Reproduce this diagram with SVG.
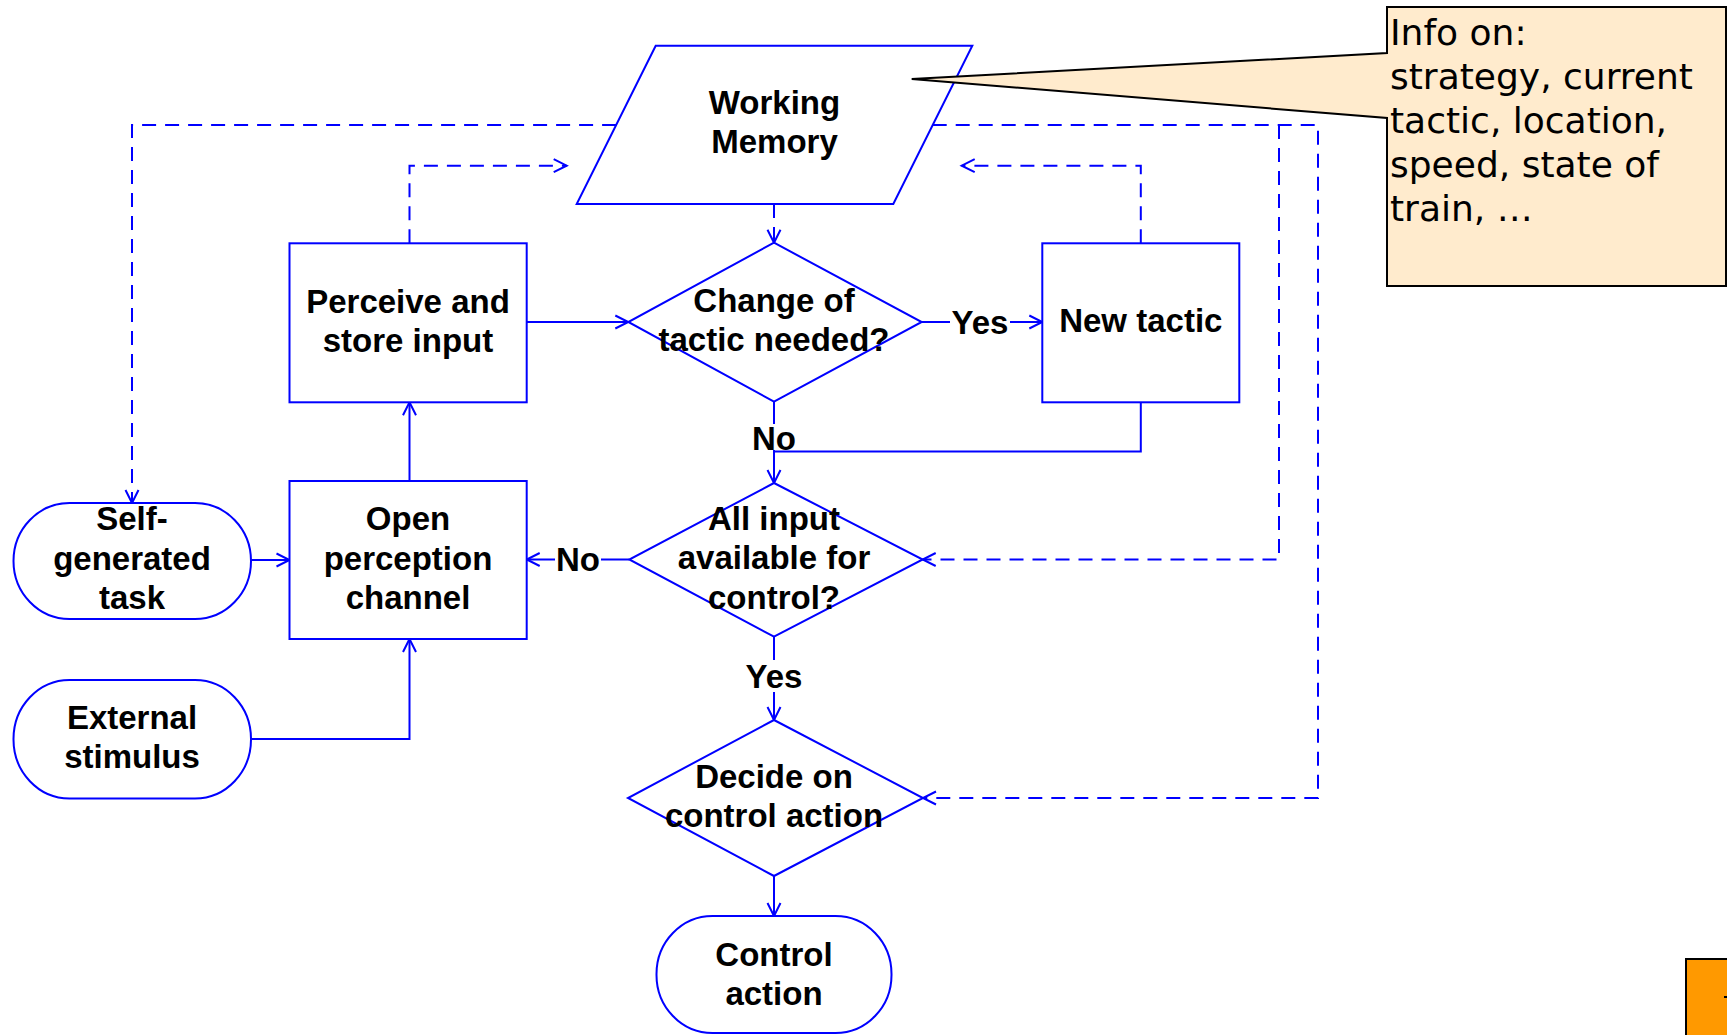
<svg xmlns="http://www.w3.org/2000/svg" width="1727" height="1035" viewBox="0 0 1727 1035">
  <style>
    .shape { fill: #ffffff; stroke: #0000ff; stroke-width: 2; }
    .lbl { font-family: "Liberation Sans", Arial, sans-serif; font-weight: bold; font-size: 33px; fill: #000000; text-anchor: middle; }
    .flow { fill: none; stroke: #0000ff; stroke-width: 2; }
    .dash { fill: none; stroke: #0000ff; stroke-width: 2; stroke-dasharray: 14 9; }
    .note { font-family: "DejaVu Sans", Verdana, sans-serif; font-size: 36px; fill: #000000; }
    .mask { fill: #ffffff; stroke: none; }
  </style>
  <defs>
    <!-- open V arrowhead used by solid and dashed connectors -->
    <marker id="arrow" markerUnits="userSpaceOnUse" viewBox="-16 -9 18 18" markerWidth="18" markerHeight="18" refX="0" refY="0" orient="auto" overflow="visible">
      <path d="M-13,-6.5 L0,0 L-13,6.5" fill="none" stroke="#0000ff" stroke-width="2" stroke-dasharray="none"/>
    </marker>
  </defs>

  <rect x="0" y="0" width="1727" height="1035" fill="#ffffff"/>

  <!-- connectors -->
  <g id="connectors">
    <!-- solid flow -->
    <path class="flow" d="M526.7,322 H628.3" marker-end="url(#arrow)"/>
    <path class="flow" d="M921.7,322 H1042.3" marker-end="url(#arrow)"/>
    <path class="flow" d="M1140.8,402.3 V451.6 H774"/>
    <path class="flow" d="M774,401.7 V483" marker-end="url(#arrow)"/>
    <path class="flow" d="M629.3,559.5 H526.7" marker-end="url(#arrow)"/>
    <path class="flow" d="M774,636.7 V720" marker-end="url(#arrow)"/>
    <path class="flow" d="M774,876 V916" marker-end="url(#arrow)"/>
    <path class="flow" d="M409.5,481 V402.3" marker-end="url(#arrow)"/>
    <path class="flow" d="M251,560 H289.5" marker-end="url(#arrow)"/>
    <path class="flow" d="M251,739 H409.5 V639" marker-end="url(#arrow)"/>

    <!-- dashed information links to/from working memory -->
    <path class="dash" d="M616.1,125 H132 V503" marker-end="url(#arrow)"/>
    <path class="dash" d="M932.7,125 H1318 V798 H923" marker-end="url(#arrow)"/>
    <path class="dash" d="M1279,125 V559.5 H922.7" marker-end="url(#arrow)"/>
    <path class="dash" d="M409.5,243.3 V165.7 H566.7" marker-end="url(#arrow)"/>
    <path class="dash" d="M1140.8,243.3 V165.7 H961.7" marker-end="url(#arrow)"/>
    <path class="dash" d="M774,204 V242.7" marker-end="url(#arrow)"/>

    <!-- branch labels -->
    <rect class="mask" x="950" y="308" width="60" height="30"/>
    <text class="lbl" x="980" y="334">Yes</text>
    <rect class="mask" x="752" y="424" width="44" height="26"/>
    <text class="lbl" x="774" y="450">No</text>
    <rect class="mask" x="555" y="545" width="46" height="30"/>
    <text class="lbl" x="578" y="571">No</text>
    <rect class="mask" x="744" y="660" width="60" height="32"/>
    <text class="lbl" x="774" y="688">Yes</text>
  </g>

  <!-- nodes -->
  <g id="working-memory">
    <polygon class="shape" points="655.7,45.7 972.3,45.7 893.3,204 576.7,204"/>
    <text class="lbl" x="774.5" y="114">Working</text>
    <text class="lbl" x="774.5" y="153">Memory</text>
  </g>

  <g id="perceive-store">
    <rect class="shape" x="289.5" y="243.3" width="237.2" height="159"/>
    <text class="lbl" x="408" y="313">Perceive and</text>
    <text class="lbl" x="408" y="352">store input</text>
  </g>

  <g id="change-tactic">
    <polygon class="shape" points="774,242.7 921.7,322 774,401.7 628.3,322"/>
    <text class="lbl" x="774" y="312">Change of</text>
    <text class="lbl" x="774" y="351">tactic needed?</text>
  </g>

  <g id="new-tactic">
    <rect class="shape" x="1042.3" y="243.3" width="197" height="159"/>
    <text class="lbl" x="1140.8" y="332">New tactic</text>
  </g>

  <g id="self-generated-task">
    <rect class="shape" x="13.5" y="503" width="237.5" height="116" rx="56" ry="58"/>
    <text class="lbl" x="132" y="530">Self-</text>
    <text class="lbl" x="132" y="569.5">generated</text>
    <text class="lbl" x="132" y="609">task</text>
  </g>

  <g id="open-perception">
    <rect class="shape" x="289.5" y="481" width="237.2" height="158"/>
    <text class="lbl" x="408" y="530">Open</text>
    <text class="lbl" x="408" y="569.5">perception</text>
    <text class="lbl" x="408" y="608.5">channel</text>
  </g>

  <g id="all-input">
    <polygon class="shape" points="774,483 922.7,559.5 774,636.7 629.3,559.5"/>
    <text class="lbl" x="774" y="529.5">All input</text>
    <text class="lbl" x="774" y="569">available for</text>
    <text class="lbl" x="774" y="608.5">control?</text>
  </g>

  <g id="external-stimulus">
    <rect class="shape" x="13.5" y="680" width="237.5" height="118.5" rx="56" ry="59"/>
    <text class="lbl" x="132" y="729">External</text>
    <text class="lbl" x="132" y="768">stimulus</text>
  </g>

  <g id="decide-action">
    <polygon class="shape" points="774,720 923,798 774,876 628,798"/>
    <text class="lbl" x="774" y="788">Decide on</text>
    <text class="lbl" x="774" y="827">control action</text>
  </g>

  <g id="control-action">
    <rect class="shape" x="656.5" y="916" width="235" height="117" rx="56" ry="58"/>
    <text class="lbl" x="774" y="966">Control</text>
    <text class="lbl" x="774" y="1005">action</text>
  </g>

  <!-- callout note pointing at working memory -->
  <g id="memory-note">
    <path d="M1387,7 H1726 V286 H1387 V118 L911.7,79 L1387,53 Z" fill="#ffebcd" stroke="#000000" stroke-width="2" stroke-linejoin="miter"/>
    <text class="note" x="1390" y="45">Info on:</text>
    <text class="note" x="1390" y="89">strategy, current</text>
    <text class="note" x="1390" y="133">tactic, location,</text>
    <text class="note" x="1390" y="177">speed, state of</text>
    <text class="note" x="1390" y="221">train, …</text>
  </g>

  <!-- orange corner tab -->
  <g id="corner-tab">
    <rect x="1686" y="959" width="50" height="80" fill="#ff9900" stroke="#000000" stroke-width="2"/>
    <rect x="1724" y="996" width="3" height="2" fill="#000000"/>
  </g>
</svg>
